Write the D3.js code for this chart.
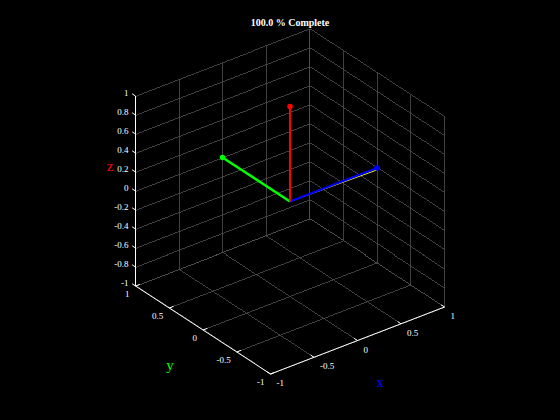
<!DOCTYPE html>
<html>
<head>
<meta charset="utf-8">
<script src="https://cdn.jsdelivr.net/npm/d3@7"></script>
<style>
  html, body { margin: 0; padding: 0; background: #000; }
  svg { display: block; }
</style>
</head>
<body>
<div id="chart"></div>
<script>
// tick values for each axis
const xTicks = [-1, -0.5, 0, 0.5, 1];
const yTicks = [-1, -0.5, 0, 0.5, 1];
const zTicks = [-1, -0.8, -0.6, -0.4, -0.2, 0, 0.2, 0.4, 0.6, 0.8, 1];

// vectors drawn from the origin (yellow sits just under the blue one)
const vecNames = ['yellow', 'x', 'y', 'z'];
const vecX = [1, 1, 0, 0];
const vecY = [0, 0, 1, 0];
const vecZ = [-0.02, 0, 0, 1];
const vecColors = ['#ffff00', '#0000ff', '#00ff00', '#ff0000'];
const vecWidths = [1, 2, 2.5, 2];
const vecMarkers = [false, true, true, true];

const title = '100.0 % Complete';

const width = 560;
const height = 420;

// projection of the 3d box: each axis scale gives a screen offset
const origin = [290, 201.5];
const sx = { h: d3.scaleLinear().domain([-1, 1]).range([-87, 87]), v: d3.scaleLinear().domain([-1, 1]).range([33.5, -33.5]) };
const sy = { h: d3.scaleLinear().domain([-1, 1]).range([67.5, -67.5]), v: d3.scaleLinear().domain([-1, 1]).range([44, -44]) };
const sz = d3.scaleLinear().domain([-1, 1]).range([95, -95]);

const P = (x, y, z) => [
  origin[0] + sx.h(x) + sy.h(y),
  origin[1] + sx.v(x) + sy.v(y) + sz(z),
];

const svg = d3.select('#chart')
  .append('svg')
  .attr('width', width)
  .attr('height', height)
  .style('background', '#000');

const line = d3.line();
const seg = (g, a, b, color, w) => g.append('path')
  .attr('d', line([P(...a), P(...b)]))
  .attr('stroke', color)
  .attr('stroke-width', w)
  .attr('fill', 'none');

// grid on the three back planes
const grid = svg.append('g').attr('shape-rendering', 'crispEdges');
const gridColor = '#505050';
// back-left wall (y = 1)
xTicks.forEach((t) => seg(grid, [t, 1, -1], [t, 1, 1], gridColor, 0.8));
zTicks.forEach((t) => seg(grid, [-1, 1, t], [1, 1, t], gridColor, 0.8));
// back-right wall (x = 1)
yTicks.forEach((t) => seg(grid, [1, t, -1], [1, t, 1], gridColor, 0.8));
zTicks.forEach((t) => seg(grid, [1, -1, t], [1, 1, t], gridColor, 0.8));
// floor (z = -1)
xTicks.forEach((t) => seg(grid, [t, -1, -1], [t, 1, -1], gridColor, 0.8));
yTicks.forEach((t) => seg(grid, [-1, t, -1], [1, t, -1], gridColor, 0.8));

// axis lines
const axes = svg.append('g');
seg(axes, [-1, -1, -1], [1, -1, -1], '#fff', 1);
seg(axes, [-1, -1, -1], [-1, 1, -1], '#fff', 1);
seg(axes, [-1, 1, -1], [-1, 1, 1], '#fff', 1);

// tick marks
xTicks.forEach((t) => seg(axes, [t, -1, -1], [t, -0.95, -1], '#fff', 1));
yTicks.forEach((t) => seg(axes, [-1, t, -1], [-0.95, t, -1], '#fff', 1));
zTicks.forEach((t) => seg(axes, [-1, 1, t], [-1, 1.05, t], '#fff', 1));

// tick labels
const fmt = (d) => String(d);
const tickFont = { family: 'Liberation Serif, Times New Roman, serif', size: 9 };

axes.selectAll('.xlab')
  .data(xTicks)
  .enter()
  .append('text')
  .attr('x', (d) => P(d, -1, -1)[0] + 6)
  .attr('y', (d) => P(d, -1, -1)[1] + 12)
  .attr('fill', '#fff')
  .attr('font-family', tickFont.family)
  .attr('font-size', tickFont.size)
  .text(fmt);

axes.selectAll('.ylab')
  .data(yTicks)
  .enter()
  .append('text')
  .attr('x', (d) => P(-1, d, -1)[0] - 6)
  .attr('y', (d) => P(-1, d, -1)[1] + 11)
  .attr('text-anchor', 'end')
  .attr('fill', '#fff')
  .attr('font-family', tickFont.family)
  .attr('font-size', tickFont.size)
  .text(fmt);

axes.selectAll('.zlab')
  .data(zTicks)
  .enter()
  .append('text')
  .attr('x', (d) => P(-1, 1, d)[0] - 7)
  .attr('y', (d) => P(-1, 1, d)[1])
  .attr('text-anchor', 'end')
  .attr('fill', '#fff')
  .attr('font-family', tickFont.family)
  .attr('font-size', tickFont.size)
  .text(fmt);

// axis titles
const axisLabel = (txt, xy, color) => svg.append('text')
  .attr('x', xy[0])
  .attr('y', xy[1])
  .attr('text-anchor', 'middle')
  .attr('fill', color)
  .attr('font-family', 'Liberation Serif, Times New Roman, serif')
  .attr('font-size', 15)
  .text(txt);

axisLabel('x', [380, 387], '#0000ff');
axisLabel('y', [170, 370], '#00ff00');
axisLabel('z', [110, 171], '#ff0000');

// vectors
const vecs = svg.append('g');
vecNames.forEach((n, i) => {
  const end = P(vecX[i], vecY[i], vecZ[i]);
  vecs.append('path')
    .attr('d', line([P(0, 0, 0), end]))
    .attr('stroke', vecColors[i])
    .attr('stroke-width', vecWidths[i])
    .attr('fill', 'none');
  if (vecMarkers[i]) {
    vecs.append('circle')
      .attr('cx', end[0])
      .attr('cy', end[1])
      .attr('r', 2.8)
      .attr('fill', vecColors[i]);
  }
});

// title
svg.append('text')
  .attr('x', 290)
  .attr('y', 26)
  .attr('text-anchor', 'middle')
  .attr('fill', '#fff')
  .attr('font-family', 'Liberation Serif, Times New Roman, serif')
  .attr('font-weight', 'bold')
  .attr('font-size', 10)
  .text(title);
</script>
</body>
</html>
